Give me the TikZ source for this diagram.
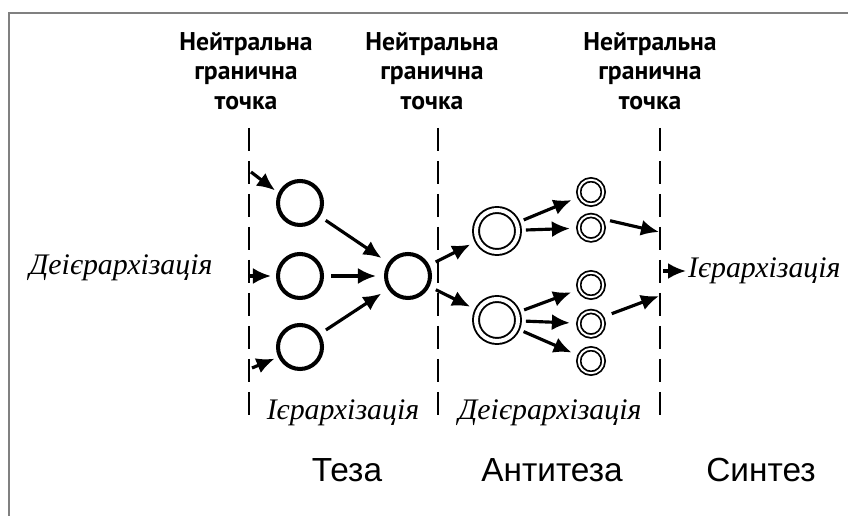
\documentclass[tikz,border=0pt]{standalone}
\usepackage{fontspec}
\setmainfont{Liberation Serif}
\setsansfont{Liberation Sans}
\newfontfamily\headfont{PT Sans}
\usetikzlibrary{arrows.meta,positioning}

\begin{document}
\begin{tikzpicture}
[x=0.02cm,y=-0.02cm,
ring/.style={shape=circle,draw=black,line width=2.3pt,minimum size=0.88cm,inner sep=0pt},
bigring/.style={shape=circle,draw=black,line width=1.1pt,double=white,double distance=2.3pt,minimum size=0.84cm,inner sep=0pt},
smallring/.style={bigring,line width=1pt,double distance=1.1pt,minimum size=0.49cm},
arr/.style={-{Latex[length=3.6mm,width=3.2mm]},line width=1.8pt,shorten >=0.16cm,shorten <=0.14cm},
divider/.style={line width=1.1pt,dash pattern=on 0.46cm off 0.2cm},
frameline/.style={line width=1.1pt,color=black!50},
heading/.style={font=\headfont\bfseries\fontsize{14.6}{16.8}\selectfont,align=center,anchor=north,inner sep=0pt},
process/.style={font=\itshape\fontsize{17}{20}\selectfont,inner sep=1pt},
stage/.style={font=\sffamily\fontsize{19}{22}\selectfont,inner sep=0pt}]

\useasboundingbox (0,0) rectangle (848,516);
\draw[frameline] (9,516) -- (9,13) -- (848,13);

\node (h1) [heading] at (246,32) {Нейтральна\\гранична\\точка};
\node (h2) [heading] at (432,32) {Нейтральна\\гранична\\точка};
\node (h3) [heading] at (650,32) {Нейтральна\\гранична\\точка};

\coordinate (d1top) at (249,128);
\coordinate (d1bot) at (249,424);
\coordinate (d2top) at (438,128);
\coordinate (d2bot) at (438,424);
\coordinate (d3top) at (660,128);
\coordinate (d3bot) at (660,424);
\draw[divider] (d1top) -- (d1bot);
\draw[divider] (d2top) -- (d2bot);
\draw[divider] (d3top) -- (d3bot);

% teza
\node (t1) [ring] at (300,203) {};
\node (t2) [ring] at (300,276) {};
\node (t3) [ring] at (300,347) {};
\node (t0) [ring] at (408,276) {};

% antyteza
\node (a1) [bigring] at (497,231) {};
\node (a2) [bigring] at (497,320) {};
\node (s1) [smallring] at (591,192) {};
\node (s2) [smallring,below=0.19cm of s1] {};
\node (s3) [smallring] at (591,285) {};
\node (s4) [smallring,below=0.25cm of s3] {};
\node (s5) [smallring,below=0.22cm of s4] {};

\coordinate (i1) at (251,172);
\coordinate (i2) at (249,276);
\coordinate (i3) at (252,368);
\coordinate (o1) at (659,232);
\coordinate (o2) at (659,296);
\coordinate (o3) at (663,271);

\draw[arr,shorten <=0pt,shorten >=0.08cm] (i1) -- (t1.155);
\draw[arr,shorten <=0pt,shorten >=0.1cm] (i2) -- (t2);
\draw[arr,shorten <=0pt,shorten >=0.08cm] (i3) -- (t3.205);
\draw[arr] (t1) -- (t0);
\draw[arr] (t2) -- (t0);
\draw[arr] (t3) -- (t0);

\draw[arr] (t0) -- (a1);
\draw[arr] (t0) -- (a2);
\draw[arr] (a1) -- (s1);
\draw[arr] (a1) -- (s2);
\draw[arr] (a2) -- (s3);
\draw[arr] (a2) -- (s4);
\draw[arr] (a2) -- (s5);
\draw[arr,shorten >=0pt,shorten <=0.2cm] (s2.45) -- (o1);
\draw[arr,shorten >=0pt,shorten <=0.2cm] (s4.30) -- (o2);

\node (deh) [process] at (121,268) {Деієрархізація};
\node (hier) [process,anchor=west] at (686,271) {Ієрархізація};
\draw[arr,shorten <=0pt,shorten >=0pt] (o3) -- (hier);

\node (l1) [process] at (343,413) {Ієрархізація};
\node (l2) [process] at (550,413) {Деієрархізація};

\node (teza) [stage] at (347,470) {Теза};
\node (antyteza) [stage] at (552,470) {Антитеза};
\node (syntez) [stage] at (761,470) {Синтез};

\end{tikzpicture}
\end{document}
